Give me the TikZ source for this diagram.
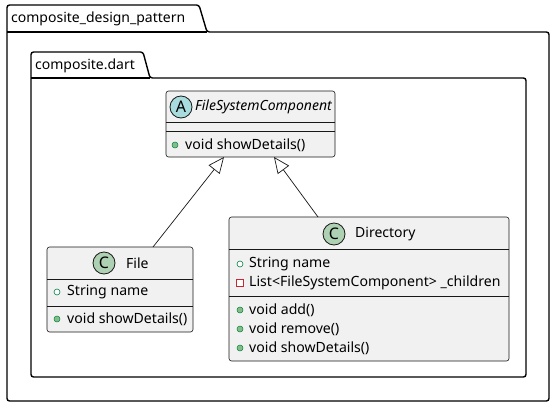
\documentclass[tikz,border=0pt]{standalone}
\usepackage{fontspec}
\setmainfont{Noto Sans}
\usetikzlibrary{arrows.meta}
\definecolor{boxfill}{HTML}{F1F1F1}
\definecolor{boxline}{HTML}{181818}
\definecolor{cgreen}{HTML}{ADD1B2}
\definecolor{acyan}{HTML}{A9DCDF}
\definecolor{pubfill}{HTML}{84BE84}
\definecolor{publine}{HTML}{038048}
\definecolor{privline}{HTML}{C82930}
\tikzset{
  classbox/.style={draw=boxline, fill=boxfill, line width=0.6pt, rounded corners=2.5pt, inner sep=0pt, anchor=north west, outer sep=0pt},
  divider/.style={draw=boxline, line width=0.6pt},
  member/.style={anchor=west, inner sep=0pt, font=\fontsize{14.1}{16}\selectfont, text=black},
  cname/.style={anchor=west, inner sep=0pt, font=\fontsize{14}{16}\selectfont, text=black},
  pkgline/.style={draw=black, line width=1.4pt, rounded corners=2.5pt},
  pkgtitle/.style={anchor=west, inner sep=0pt, font=\fontsize{14}{16}\selectfont\bfseries},
  badge/.style={circle, draw=boxline, line width=0.8pt, minimum size=22pt, inner sep=0pt, font=\fontsize{16}{16}\selectfont},
  pubmeth/.style={circle, fill=pubfill, draw=publine, line width=0.5pt, minimum size=6pt, inner sep=0pt},
  pubfield/.style={circle, fill=white, draw=publine, line width=0.6pt, minimum size=6pt, inner sep=0pt},
  privfield/.style={rectangle, fill=white, draw=privline, line width=0.7pt, minimum size=6.5pt, inner sep=0pt},
  gen/.style={draw=boxline, line width=0.7pt, -{Triangle[open, length=16pt, width=14pt]}}
}
\begin{document}
\begin{tikzpicture}[x=1pt, y=-1pt]
\useasboundingbox (0,0) rectangle (555,407);
% outer package
\draw[pkgline, fill=white] (7,32) -- (7,5) -- (199,5) -- (207,32) -- (549,32) -- (549,401) -- (7,401) -- cycle;
\draw[line width=1.4pt] (7,32) -- (207,32);
\node[pkgtitle] (pkgouter) at (11,19) {composite\_design\_pattern};
% inner package
\draw[pkgline, fill=white] (31,78) -- (31,52) -- (143,52) -- (150,78) -- (526,78) -- (526,377) -- (31,377) -- cycle;
\draw[line width=1.4pt] (31,78) -- (150,78);
\node[pkgtitle] (pkginner) at (35,65.5) {composite.dart};

% FileSystemComponent
\node[classbox, minimum width=169pt, minimum height=66pt] (fsc) at (166,91) {};
\draw[divider] (166,122) -- (335,122);
\draw[divider] (166,131) -- (335,131);
\node[badge, fill=acyan] (fscbadge) at (181,107) {A};
\node[cname, font=\fontsize{14}{16}\selectfont\itshape] (fscname) at (195,107) {FileSystemComponent};
\node[pubmeth] (fscm1i) at (175,145) {};
\node[member] (fscm1) at (185,145) {void showDetails()};

% File
\node[classbox, minimum width=146pt, minimum height=85pt] (file) at (47,247) {};
\draw[divider] (47,279) -- (193,279);
\draw[divider] (47,306) -- (193,306);
\node[badge, fill=cgreen] (filebadge) at (104,263) {C};
\node[cname] (filename) at (126,263) {File};
\node[pubfield] (filef1i) at (57,292) {};
\node[member] (filef1) at (67,292) {String name};
\node[pubmeth] (filem1i) at (57,319) {};
\node[member] (filem1) at (67,319) {void showDetails()};

% Directory
\node[classbox, minimum width=280pt, minimum height=144pt] (dir) at (229,217) {};
\draw[divider] (229,249) -- (509,249);
\draw[divider] (229,296) -- (509,296);
\node[badge, fill=cgreen] (dirbadge) at (334,234) {C};
\node[cname] (dirname) at (355,234) {Directory};
\node[pubfield] (dirf1i) at (240,264) {};
\node[member] (dirf1) at (249,264) {String name};
\node[privfield] (dirf2i) at (240,283) {};
\node[member] (dirf2) at (249,283) {List<FileSystemComponent> \_children};
\node[pubmeth] (dirm1i) at (240,310) {};
\node[member] (dirm1) at (249,310) {void add()};
\node[pubmeth] (dirm2i) at (240,329) {};
\node[member] (dirm2) at (249,329) {void remove()};
\node[pubmeth] (dirm3i) at (240,348) {};
\node[member] (dirm3) at (249,348) {void showDetails()};

% generalizations
\draw[gen] ([xshift=106pt]file.north west) -- ([xshift=58pt]fsc.south west);
\draw[gen] ([xshift=89pt]dir.north west) -- ([xshift=108pt]fsc.south west);
\end{tikzpicture}
\end{document}
